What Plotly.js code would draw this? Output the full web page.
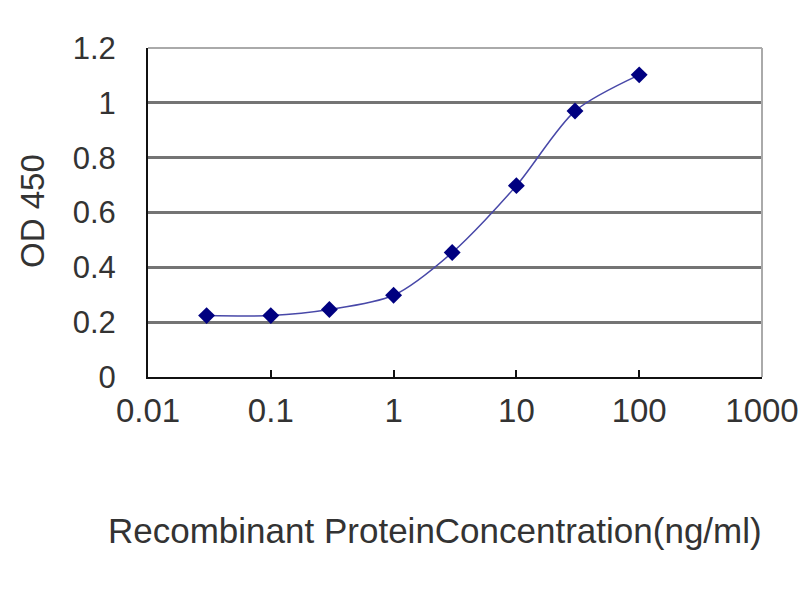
<!DOCTYPE html>
<html>
<head>
<meta charset="utf-8">
<script src="https://cdn.plot.ly/plotly-3.0.1.min.js"></script>
<style>html,body{margin:0;padding:0;background:#fff;}#chart{width:800px;height:600px;}</style>
</head>
<body>
<div id="chart"></div>
<script>
const concentrations = [0.03, 0.1, 0.3, 1, 3, 10, 30, 100];
const odValues = [0.224, 0.224, 0.246, 0.298, 0.454, 0.698, 0.970, 1.102];
const xTickVals = [0.01, 0.1, 1, 10, 100, 1000];
const xTickText = ["0.01", "0.1", "1", "10", "100", "1000"];
const yTickVals = [0, 0.2, 0.4, 0.6, 0.8, 1, 1.2];
const yTickText = ["0", "0.2", "0.4", "0.6", "0.8", "1", "1.2"];
const xTitle = 'Recombinant ProteinConcentration(ng/ml)';
const yTitle = 'OD 450';

const trace = {
  x: concentrations,
  y: odValues,
  type: 'scatter',
  mode: 'lines+markers',
  line: {color: '#4848a8', width: 1.5, shape: 'spline', smoothing: 0.8},
  marker: {symbol: 'diamond', size: 13, color: '#000080'},
  hoverinfo: 'skip'
};

const FONT = 'Liberation Sans, Arial, sans-serif';
const TXT = '#333';

const layout = {
  width: 800, height: 600,
  margin: {l: 148, r: 38, t: 48, b: 223},
  paper_bgcolor: '#fff', plot_bgcolor: '#fff',
  showlegend: false,
  font: {family: FONT, color: TXT},
  xaxis: {
    type: 'log', range: [-2, 3],
    tickvals: xTickVals, ticktext: xTickText,
    ticks: 'inside', ticklen: 7, tickwidth: 2, tickcolor: '#111',
    showgrid: false, zeroline: false,
    showline: true, linecolor: '#111', linewidth: 2,
    tickfont: {size: 33, color: TXT},
    ticklabelstandoff: 3
  },
  yaxis: {
    range: [0, 1.2],
    tickvals: yTickVals, ticktext: yTickText,
    ticks: '', showgrid: true, gridcolor: '#747474', gridwidth: 3,
    zeroline: false,
    showline: true, linecolor: '#111', linewidth: 2,
    tickfont: {size: 31, color: TXT},
    ticklabelstandoff: 24
  },
  annotations: [
    {text: xTitle, xref: 'paper', yref: 'paper', x: 0.4674, y: -0.468,
     xanchor: 'center', yanchor: 'middle', showarrow: false,
     font: {size: 35, color: TXT, family: FONT}},
    {text: yTitle, xref: 'paper', yref: 'paper', x: -0.1873, y: 0.5046,
     xanchor: 'center', yanchor: 'middle', showarrow: false, textangle: -90,
     font: {size: 33, color: TXT, family: FONT}}
  ],
  shapes: [
    {type: 'line', xref: 'paper', yref: 'paper', x0: 0, x1: 1, y0: 1, y1: 1, line: {color: '#aaa', width: 2}},
    {type: 'line', xref: 'paper', yref: 'paper', x0: 1, x1: 1, y0: 0, y1: 1, line: {color: '#aaa', width: 2}}
  ]
};

Plotly.newPlot('chart', [trace], layout, {displayModeBar: false, staticPlot: true});
</script>
</body>
</html>
